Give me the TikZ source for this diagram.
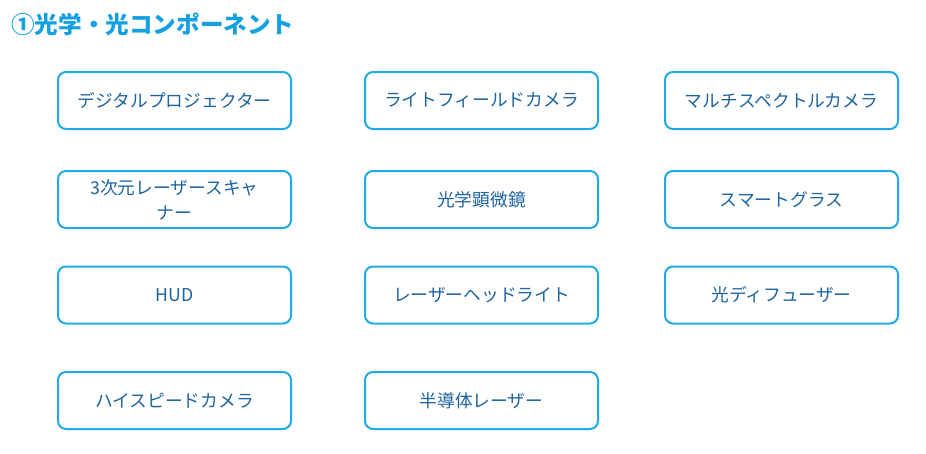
\documentclass[tikz,border=0pt]{standalone}
\usepackage{fontspec}
\setmainfont{Noto Sans CJK JP}
\usepackage{xcolor}
\usepackage{tikz}
\usetikzlibrary{positioning}
\definecolor{framecol}{RGB}{32,170,230}
\definecolor{textcol}{RGB}{30,100,160}
\definecolor{titlecol}{RGB}{20,160,225}
\tikzset{
  item/.style = {draw=framecol, line width=1.5pt, rounded corners=6pt, fill=white,
    minimum width=174.75pt, minimum height=42.75pt, inner sep=2pt,
    text=textcol, align=center, font=\fontsize{13.3}{18.7}\selectfont},
  headline/.style = {anchor=west, inner sep=0pt, text=titlecol,
    font=\bfseries\fontsize{17.7}{20}\selectfont},
}

\begin{document}
\begin{tikzpicture}[
			x = 0.75pt,
			y = -0.75pt
			]

			\useasboundingbox (0,0) rectangle (926,454);

			\node[headline] (title) at (11,24) {①光学・光コンポーネント};

			% column 1
			\node[item] (projector) at (174.5,100.5) {デジタルプロジェクター};
			\node[item] (scanner) at (174.5,199.5) {3次元レーザースキャ\\ナー};
			\node[item] (hud) at (174.5,295) {HUD};
			\node[item] (highspeed) at (174.5,400.5) {ハイスピードカメラ};

			% column 2
			\node[item] (lightfield) at (481.5,100.5) {ライトフィールドカメラ};
			\node[item] (microscope) at (481.5,199.5) {光学顕微鏡};
			\node[item] (headlight) at (481.5,295) {レーザーヘッドライト};
			\node[item] (laser) at (481.5,400.5) {半導体レーザー};

			% column 3
			\node[item] (multispec) at (781.5,100.5) {マルチスペクトルカメラ};
			\node[item] (glasses) at (781.5,199.5) {スマートグラス};
			\node[item] (diffuser) at (781.5,295) {光ディフューザー};

		\end{tikzpicture}
\end{document}
